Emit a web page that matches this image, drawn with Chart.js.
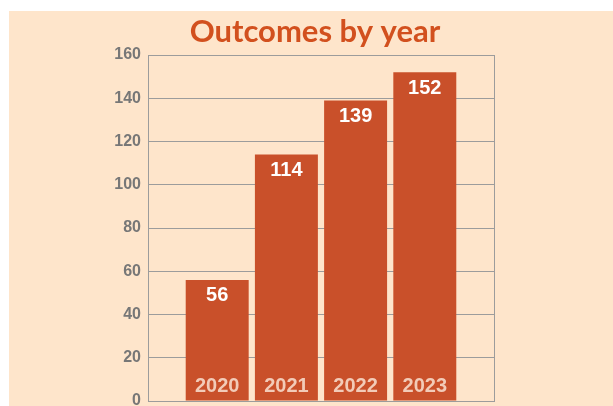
<!DOCTYPE html>
<html>
<head>
<meta charset="utf-8">
<script src="https://cdn.jsdelivr.net/npm/chart.js@4/dist/chart.umd.min.js"></script>
<style>
  html, body { margin: 0; padding: 0; background: #fff; }
  #wrap { position: absolute; left: 9px; top: 11px; width: 604px; height: 395px; background: #FEE5CB; overflow: hidden; }
</style>
</head>
<body>
<div id="wrap"><canvas id="chart" width="604" height="395"></canvas></div>
<script>
  // data
  const categories = ['2020', '2021', '2022', '2023'];
  const outcomes = [56, 114, 139, 152];
  const yMin = 0, yMax = 160, yStep = 20;
  const chartTitle = 'Outcomes by year';

  const barColor = '#C9502A';
  const gridColor = '#9C9C9C';

  // labels inside the bars: value at the top, year at the bottom
  const barLabels = {
    id: 'barLabels',
    afterDatasetsDraw(chart) {
      const ctx = chart.ctx;
      const meta = chart.getDatasetMeta(0);
      ctx.save();
      ctx.textAlign = 'center';
      ctx.textBaseline = 'middle';
      ctx.font = 'bold 20px "Liberation Sans", Arial, sans-serif';
      meta.data.forEach((bar, i) => {
        ctx.fillStyle = '#FFFFFF';
        ctx.fillText(String(outcomes[i]), bar.x, bar.y + 16);
        ctx.fillStyle = '#F2CBB8';
        ctx.fillText(categories[i], bar.x, bar.base - 14);
      });
      ctx.restore();
    }
  };

  // box round the plot area + title
  const frame = {
    id: 'frame',
    beforeDatasetsDraw(chart) {
      const a = chart.chartArea;
      const ctx = chart.ctx;
      ctx.save();
      ctx.strokeStyle = gridColor;
      ctx.lineWidth = 1;
      ctx.strokeRect(Math.round(a.left) + 0.5, Math.round(a.top) + 0.5,
                     Math.round(a.right - a.left), Math.round(a.bottom - a.top));
      ctx.fillStyle = '#D2501E';
      ctx.font = 'bold 31px Lato, sans-serif';
      ctx.textAlign = 'center';
      ctx.textBaseline = 'middle';
      ctx.fillText(chartTitle, 306, 21);
      ctx.restore();
    }
  };

  new Chart(document.getElementById('chart'), {
    type: 'bar',
    data: {
      datasets: [{
        data: outcomes.map((v, i) => ({ x: i, y: v })),
        backgroundColor: barColor,
        barPercentage: 1,
        categoryPercentage: 0.91
      }]
    },
    options: {
      responsive: false,
      animation: false,
      layout: { padding: { left: 8, right: 119, top: 44, bottom: 4 } },
      plugins: {
        legend: { display: false },
        tooltip: { enabled: false },
        title: { display: false }
      },
      scales: {
        x: {
          type: 'linear',
          min: -1,
          max: 4,
          offset: false,
          ticks: { display: false },
          grid: { display: false },
          border: { color: gridColor },
          afterFit(scale) { scale.height = 1; }
        },
        y: {
          min: yMin,
          max: yMax,
          ticks: {
            stepSize: yStep,
            color: '#777777',
            padding: 7,
            font: { family: 'Liberation Sans', size: 16, weight: 'bold' }
          },
          grid: { color: gridColor, drawTicks: false },
          border: { color: gridColor },
          afterFit(scale) {
            scale.width = 131;
            scale.paddingTop = 0;
            scale.paddingBottom = 0;
          }
        }
      }
    },
    plugins: [frame, barLabels]
  });
</script>
</body>
</html>
